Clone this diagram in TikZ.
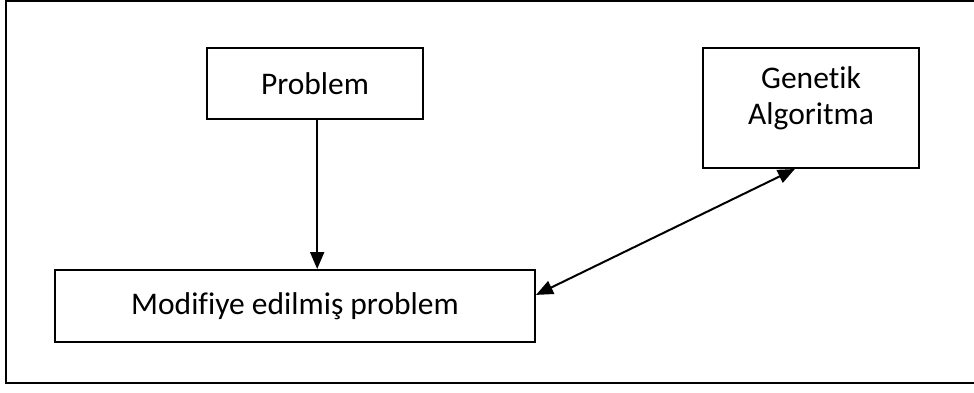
\documentclass[tikz,border=0pt]{standalone}
\usepackage{fontspec}
\setmainfont{Carlito}[Ligatures=NoCommon]
\usetikzlibrary{arrows.meta,calc}
\begin{document}
\begin{tikzpicture}[x=1pt,y=-1pt,
  box/.style={draw,line width=2pt,fill=white,rectangle,inner sep=0pt},
  lbl/.style={font=\fontsize{31.5}{36}\selectfont,align=center,inner sep=0pt},
  conn/.style={line width=2pt,-{Triangle[length=17pt,width=14pt]}},
  biconn/.style={line width=2pt,{Triangle[length=17pt,width=14pt]}-{Triangle[length=17pt,width=14pt]}}]
  \useasboundingbox (0,0) rectangle (974,392);
  % outer frame (its right side runs past the page edge)
  \draw[line width=2pt] (6,1) rectangle (990,383);

  % boxes
  \node[box,minimum width=216pt,minimum height=71pt] (prob) at (315,83.5) {};
  \node[box,minimum width=480pt,minimum height=72pt] (mod) at (295,306) {};
  \node[box,minimum width=216pt,minimum height=120pt] (ga) at (811,108) {};

  % labels
  \node[lbl] (probtext) at (prob.center) {Problem};
  \node[lbl] (modtext) at (mod.center) {Modifiye edilmiş problem};
  \node[lbl] (gatext) at (811,98) {Genetik\\Algoritma};

  % connectors
  \coordinate (pbot) at ($(prob.south west)!0.51!(prob.south east)$);
  \draw[conn] (pbot) -- (pbot |- mod.north);
  \coordinate (mside) at ($(mod.north east)!0.35!(mod.south east)$);
  \coordinate (gbot) at ($(ga.south west)!0.426!(ga.south east)$);
  \draw[biconn] (mside) -- (gbot);
\end{tikzpicture}
\end{document}
